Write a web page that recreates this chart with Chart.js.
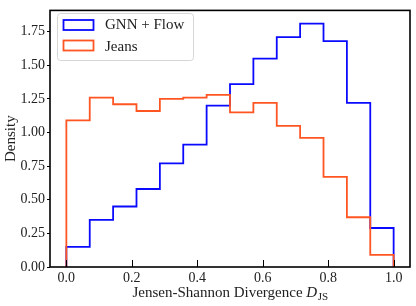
<!DOCTYPE html>
<html>
<head>
<meta charset="utf-8">
<script src="https://cdn.jsdelivr.net/npm/chart.js@4.4.0/dist/chart.umd.min.js"></script>
<style>
  html, body { margin: 0; padding: 0; background: #fff; }
</style>
</head>
<body>
<canvas id="jsdChart" width="416" height="306"></canvas>
<script>
// histogram bin edges (14 bins on [0, 1]) and the two density series
const binEdges = [0, 1/14, 2/14, 3/14, 4/14, 5/14, 6/14, 7/14, 8/14, 9/14, 10/14, 11/14, 12/14, 13/14, 1];
const gnnFlow = [0.15, 0.35, 0.45, 0.58, 0.77, 0.91, 1.20, 1.36, 1.55, 1.71, 1.81, 1.68, 1.22, 0.29];
const jeans   = [1.09, 1.26, 1.21, 1.16, 1.25, 1.26, 1.28, 1.15, 1.22, 1.05, 0.96, 0.67, 0.37, 0.09];
const seriesNames = ['GNN + Flow', 'Jeans'];
const xTicks = [0, 0.2, 0.4, 0.6, 0.8, 1.0];
const yTicks = [0, 0.25, 0.5, 0.75, 1.0, 1.25, 1.5, 1.75];

const serif = '"Liberation Serif", "DejaVu Serif", serif';
const blue = '#0a0aff';
const orange = '#ff5522';

// turn bin heights into the outline of a step histogram
function stepOutline(values) {
    const pts = [{ x: binEdges[0], y: 0 }];
    values.forEach((v, i) => pts.push({ x: binEdges[i], y: v }));
    pts.push({ x: binEdges[binEdges.length - 1], y: values[values.length - 1] });
    pts.push({ x: binEdges[binEdges.length - 1], y: 0 });
    return pts;
}

// frame, inward x ticks, legend box and x label with subscript
const decorations = {
    id: 'decorations',
    afterDatasetsDraw(chart) {
        const { ctx, chartArea: a, scales: { x } } = chart;
        ctx.save();

        ctx.strokeStyle = '#000';
        ctx.lineWidth = 1;
        xTicks.forEach(v => {
            const px = Math.round(x.getPixelForValue(v)) + 0.5;
            ctx.beginPath();
            ctx.moveTo(px, a.bottom);
            ctx.lineTo(px, a.bottom - 7);
            ctx.stroke();
        });

        ctx.lineWidth = 1.6;
        ctx.strokeRect(a.left, a.top, a.right - a.left, a.bottom - a.top);

        // legend
        const lx = 57, ly = 13, lw = 136, lh = 47;
        ctx.beginPath();
        ctx.roundRect(lx + 0.5, ly + 0.5, lw, lh, 3);
        ctx.fillStyle = 'rgba(255,255,255,0.85)';
        ctx.fill();
        ctx.strokeStyle = '#d6d6d6';
        ctx.lineWidth = 1;
        ctx.stroke();

        const colors = [blue, orange];
        ctx.font = '15px ' + serif;
        ctx.textBaseline = 'alphabetic';
        seriesNames.forEach((name, i) => {
            const by = 20 + i * 20.5;
            ctx.strokeStyle = colors[i];
            ctx.lineWidth = 1.8;
            ctx.strokeRect(63.5, by, 30, 10);
            ctx.fillStyle = '#222';
            ctx.fillText(name, 105, 29 + i * 22);
        });

        // x axis label: Jensen-Shannon Divergence D_JS
        const main = 'Jensen-Shannon Divergence ';
        ctx.font = '15px ' + serif;
        const w1 = ctx.measureText(main).width;
        ctx.font = 'italic 15px ' + serif;
        const w2 = ctx.measureText('D').width;
        ctx.font = '11px ' + serif;
        const w3 = ctx.measureText('JS').width;
        let tx = (a.left + a.right) / 2 - (w1 + w2 + w3) / 2;
        const base = 297;
        ctx.fillStyle = '#222';
        ctx.font = '15px ' + serif;
        ctx.fillText(main, tx, base);
        tx += w1;
        ctx.font = 'italic 15px ' + serif;
        ctx.fillText('D', tx, base);
        tx += w2 + 0.5;
        ctx.font = '11px ' + serif;
        ctx.fillText('JS', tx, base + 3);

        ctx.restore();
    }
};

const ctx = document.getElementById('jsdChart').getContext('2d');
new Chart(ctx, {
    type: 'line',
    data: {
        datasets: [{
            label: seriesNames[0],
            data: stepOutline(gnnFlow),
            borderColor: blue,
            borderWidth: 1.8,
            stepped: 'before',
            fill: false,
            pointRadius: 0,
            order: 1
        }, {
            label: seriesNames[1],
            data: stepOutline(jeans),
            borderColor: orange,
            borderWidth: 1.8,
            stepped: 'before',
            fill: false,
            pointRadius: 0,
            order: 0
        }]
    },
    options: {
        responsive: false,
        animation: false,
        layout: { padding: { top: 5, right: 6, left: 0, bottom: 0 } },
        plugins: {
            legend: { display: false },
            tooltip: { enabled: false }
        },
        scales: {
            x: {
                type: 'linear',
                min: -0.05,
                max: 1.05,
                afterBuildTicks: s => { s.ticks = xTicks.map(v => ({ value: v })); },
                afterFit: s => { s.height = 39; },
                grid: { display: false, drawTicks: false, tickLength: 0 },
                border: { display: false },
                ticks: {
                    padding: 3,
                    color: '#222',
                    font: { family: serif, size: 14 },
                    callback: v => v.toFixed(1),
                    maxRotation: 0
                }
            },
            y: {
                min: 0,
                max: 1.908,
                afterBuildTicks: s => { s.ticks = yTicks.map(v => ({ value: v })); },
                afterFit: s => { s.width = 50; },
                grid: { drawOnChartArea: false, tickLength: 3, color: '#000' },
                border: { display: false },
                ticks: {
                    padding: 2,
                    color: '#222',
                    font: { family: serif, size: 14 },
                    callback: v => v.toFixed(2)
                },
                title: {
                    display: true,
                    text: 'Density',
                    color: '#222',
                    font: { family: serif, size: 15 },
                    padding: { top: 2, bottom: 0 }
                }
            }
        }
    },
    plugins: [decorations]
});
</script>
</body>
</html>
